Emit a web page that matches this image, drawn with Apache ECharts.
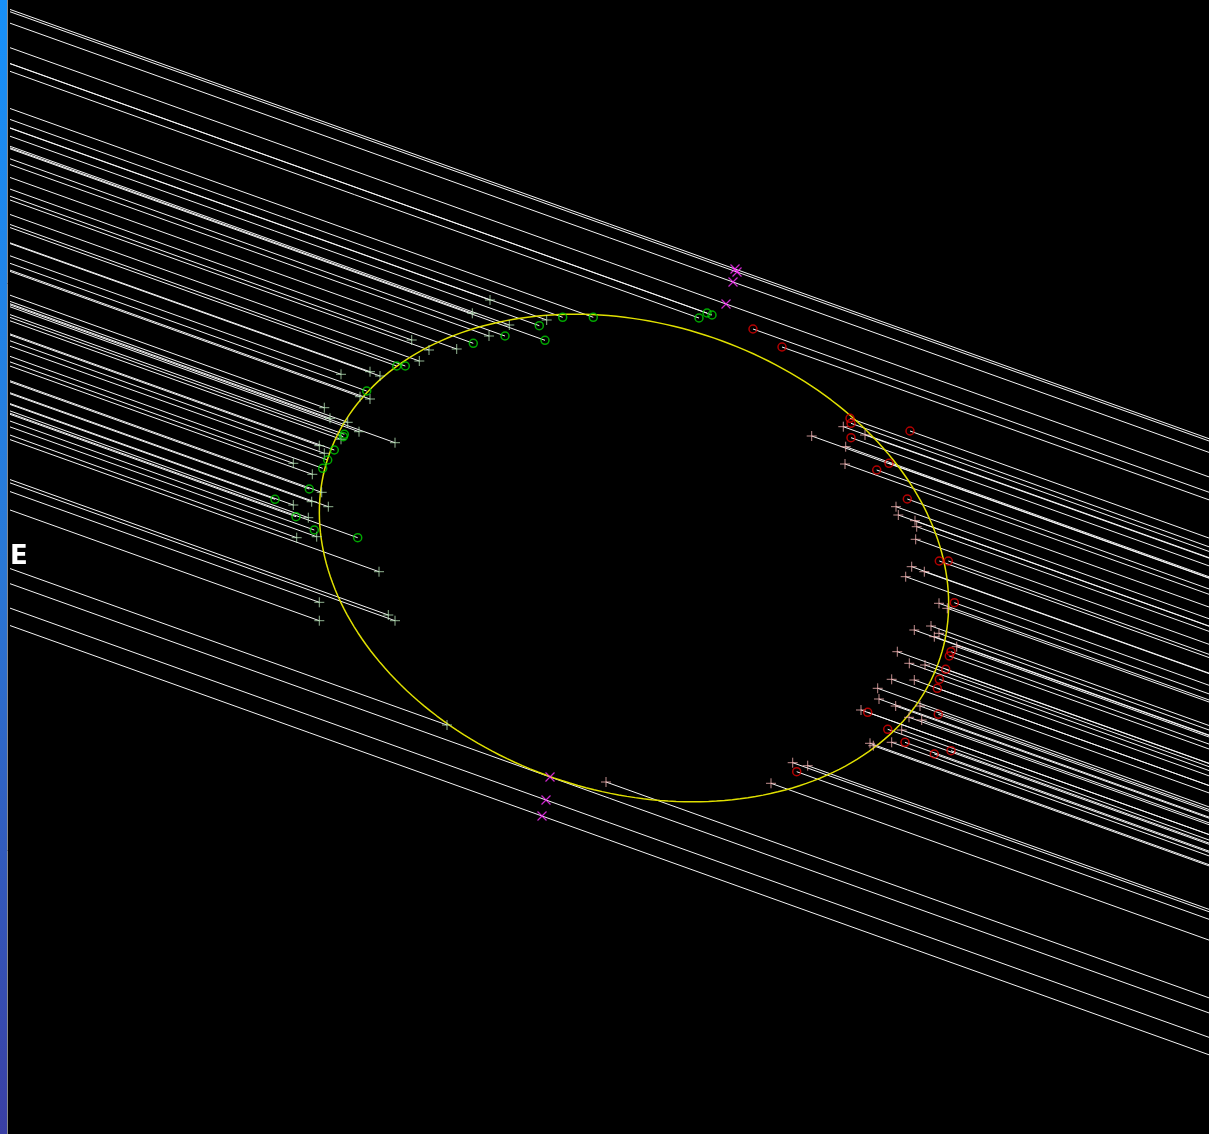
<!DOCTYPE html>
<html>
<head>
<meta charset="utf-8">
<title>Occultation chords</title>
<script src="https://cdn.jsdelivr.net/npm/echarts@6/dist/echarts.min.js"></script>
<style>
  html, body { margin: 0; padding: 0; background: #000; }
  #chart { width: 1209px; height: 1134px; }
</style>
</head>
<body>
<div id="chart"></div>
<script>
// Plot frame in sky-plane units (x to the west, y downward)
const xRange = [0, 1209];
const yRange = [0, 1134];
const chordStartX = 10;        // where every chord enters the frame
const chordSlope = 0.358;      // common direction of the shadow track

// Disappearance points, observed (timed) and estimated
const disappearObs = [
  [562.7, 317.3], [593.3, 317.3], [539.3, 325.7], [545, 340.3], [505, 336],
  [473.3, 343.3], [405.3, 366], [396.7, 366], [366.7, 391], [344.3, 434.3],
  [343.3, 436.7], [334.3, 450], [327.7, 460], [322.7, 468.3], [309.3, 489],
  [275, 499.3], [296, 516.7], [314.3, 530], [357.7, 537.7], [699, 318],
  [707, 313], [712, 315]
];
const disappearEst = [
  [490, 300], [472.3, 313.3], [546.7, 320], [509.3, 325], [489, 336],
  [456.7, 349], [429, 350], [419.3, 361], [411.7, 340], [370, 371.7],
  [380, 376], [341, 374.3], [370, 399], [360, 396.7], [324.3, 407.7],
  [330, 418.3], [347.7, 422.3], [359, 431.7], [395, 442.7], [341, 439.3],
  [319.3, 445.7], [324.3, 453.3], [293.3, 463.3], [312.3, 474.3], [321.7, 492.3],
  [311.7, 501.7], [293.3, 505], [328.3, 506.7], [308.3, 517.7], [316.7, 536.7],
  [296.7, 537.7], [379, 571.7], [319.3, 602.3], [388.3, 615], [395, 620.7],
  [319.3, 620.7], [447, 725]
];

// Reappearance points, observed (timed) and estimated
const reappearObs = [
  [753, 329], [782, 347], [850, 418.3], [851, 423.3], [910, 431],
  [851, 437.7], [889, 463.3], [876.7, 470], [907.3, 499], [939.3, 561],
  [948.3, 561], [954.3, 602.7], [951, 651.7], [949.3, 656], [945.7, 669.3],
  [939.3, 679.3], [937.3, 688.3], [867.7, 712.3], [938.3, 714.3], [887.7, 729.3],
  [905, 742.3], [934.3, 754], [951, 750.7], [796.7, 771.7]
];
const reappearEst = [
  [843.3, 426.7], [811.7, 436], [865, 435], [845.7, 446.7], [845, 464],
  [896, 506.7], [898.3, 515], [915, 520.7], [916.7, 526.7], [915.7, 539.3],
  [911.7, 566.7], [924.3, 571.7], [905.7, 576.7], [939, 603.3], [947.3, 608.3],
  [914.3, 630], [931, 626], [939, 633.3], [934.3, 636.7], [956.7, 646.7],
  [897.3, 651.7], [909.3, 663.3], [925, 665], [891.7, 679.3], [914.3, 680],
  [877.7, 688.3], [879, 699], [895.7, 706], [920, 706], [861, 710],
  [909, 717.3], [921.7, 720], [901.7, 730], [891.7, 742.3], [870, 743.3],
  [873.3, 745.7], [606, 782], [771, 783.3], [792.7, 762.7], [807.7, 765.7]
];

// Negative (miss) chords: one reference point on each chord
const missPoints = [
  [735, 269], [737, 272], [733, 282], [726, 304], [550, 777], [546, 800], [542, 816]
];

// Fitted limb profile
const limbCenter = [634, 558];
const limbAxes = [322, 234];
const limbTiltDeg = 18;

// ---- derived geometry ----
const yOnChord = (p, x) => p[1] + chordSlope * (x - p[0]);

const segments = [];
disappearObs.concat(disappearEst).forEach(p => {
  segments.push({ coords: [[chordStartX, yOnChord(p, chordStartX)], [p[0], p[1]]] });
});
reappearObs.concat(reappearEst).forEach(p => {
  segments.push({ coords: [[p[0], p[1]], [xRange[1], yOnChord(p, xRange[1])]] });
});
missPoints.forEach(p => {
  segments.push({ coords: [[chordStartX, yOnChord(p, chordStartX)], [xRange[1], yOnChord(p, xRange[1])]] });
});

const limb = [];
const th = limbTiltDeg * Math.PI / 180;
for (let i = 0; i <= 240; i++) {
  const t = (i / 240) * 2 * Math.PI;
  const u = limbAxes[0] * Math.cos(t), v = limbAxes[1] * Math.sin(t);
  limb.push([
    limbCenter[0] + u * Math.cos(th) - v * Math.sin(th),
    limbCenter[1] + u * Math.sin(th) + v * Math.cos(th)
  ]);
}

const plusPath = 'path://M5,0L5,10M0,5L10,5';
const crossPath = 'path://M0,0L10,10M10,0L0,10';

const chart = echarts.init(document.getElementById('chart'), null, { renderer: 'canvas' });
chart.setOption({
  backgroundColor: '#000000',
  animation: false,
  grid: { left: 0, right: 0, top: 0, bottom: 0 },
  xAxis: { type: 'value', min: xRange[0], max: xRange[1], show: false },
  yAxis: { type: 'value', min: yRange[0], max: yRange[1], inverse: true, show: false },
  series: [
    {
      type: 'lines', coordinateSystem: 'cartesian2d', silent: true, z: 1,
      lineStyle: { color: '#f4f4f4', width: 1, opacity: 1 },
      data: segments
    },
    {
      type: 'line', data: limb, showSymbol: false, silent: true, z: 2,
      lineStyle: { color: '#e0e000', width: 1.5 }
    },
    {
      type: 'scatter', data: disappearEst, symbol: plusPath, symbolSize: 10, z: 3,
      itemStyle: { color: 'rgba(0,0,0,0)', borderColor: '#b4e0b4', borderWidth: 1 }
    },
    {
      type: 'scatter', data: reappearEst, symbol: plusPath, symbolSize: 10, z: 3,
      itemStyle: { color: 'rgba(0,0,0,0)', borderColor: '#f0b0b0', borderWidth: 1 }
    },
    {
      type: 'scatter', data: disappearObs, symbol: 'circle', symbolSize: 8, z: 4,
      itemStyle: { color: 'rgba(0,0,0,0)', borderColor: '#00d000', borderWidth: 1.5 }
    },
    {
      type: 'scatter', data: reappearObs, symbol: 'circle', symbolSize: 8, z: 4,
      itemStyle: { color: 'rgba(0,0,0,0)', borderColor: '#e00000', borderWidth: 1.5 }
    },
    {
      type: 'scatter', data: missPoints, symbol: crossPath, symbolSize: 9, z: 4,
      itemStyle: { color: 'rgba(0,0,0,0)', borderColor: '#ff30ff', borderWidth: 1.2 }
    }
  ],
  graphic: [
    {
      type: 'rect', left: 0, top: 0, z: 10,
      shape: { x: 0, y: 0, width: 7, height: 1134 },
      style: {
        fill: new echarts.graphic.LinearGradient(0, 0, 0, 1, [
          { offset: 0, color: '#1890f8' },
          { offset: 0.5, color: '#2a78d6' },
          { offset: 1, color: '#3a3fa4' }
        ])
      }
    },
    {
      type: 'line', z: 10,
      shape: { x1: 7.5, y1: 0, x2: 7.5, y2: 1134 },
      style: { stroke: '#8a8a8a', lineWidth: 1 }
    },
    {
      type: 'text', left: 10, top: 544, z: 10,
      style: { text: 'E', fill: '#ffffff', font: 'bold 26px "DejaVu Sans", sans-serif' }
    }
  ]
});
</script>
</body>
</html>
